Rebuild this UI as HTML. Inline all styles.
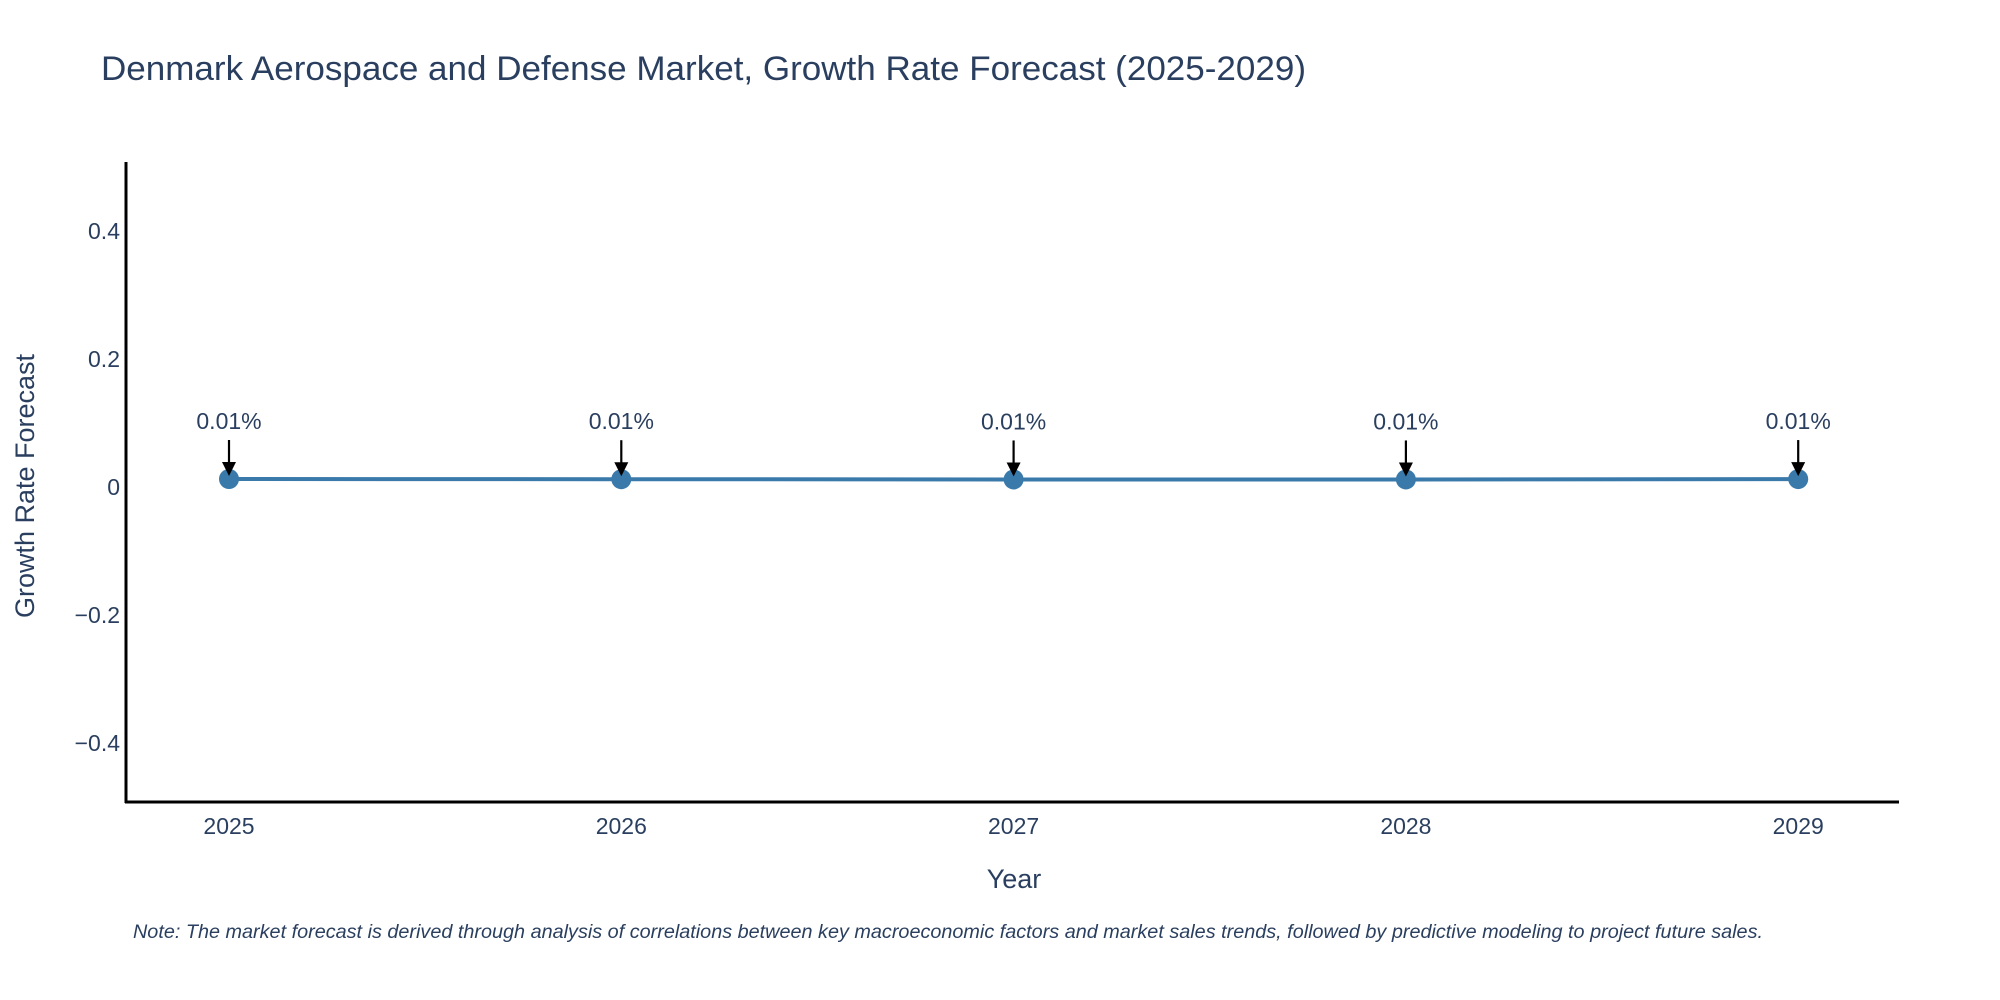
<!DOCTYPE html>
<html><head><meta charset="utf-8"><style>
html,body{margin:0;padding:0;background:#fff;}
svg{display:block;font-family:"Liberation Sans","DejaVu Sans",sans-serif;}
</style></head><body>
<svg id="chart" width="2000" height="1000" viewBox="0 0 2000 1000">
<text x="101" y="80" font-size="34" fill="#2a3f5f" textLength="1205" lengthAdjust="spacingAndGlyphs">Denmark Aerospace and Defense Market, Growth Rate Forecast (2025-2029)</text>
<text transform="translate(34,486) rotate(-90)" text-anchor="middle" font-size="27" fill="#2a3f5f">Growth Rate Forecast</text>
<text x="1014" y="888" text-anchor="middle" font-size="27" fill="#2a3f5f">Year</text>
<text x="133" y="938" font-size="19" font-style="italic" fill="#2a3f5f" textLength="1630" lengthAdjust="spacingAndGlyphs">Note: The market forecast is derived through analysis of correlations between key macroeconomic factors and market sales trends, followed by predictive modeling to project future sales.</text>
<g id="plot"></g>
</svg>
<script>
const years = [2025, 2026, 2027, 2028, 2029];
const growthValues = [0.0125, 0.0122, 0.0118, 0.0118, 0.0124];
const valueLabels = ["0.01%", "0.01%", "0.01%", "0.01%", "0.01%"];
const yTicks = [0.4, 0.2, 0, -0.2, -0.4];
const yTickLabels = ["0.4", "0.2", "0", "\u22120.2", "\u22120.4"];

const NS = "http://www.w3.org/2000/svg";
const g = document.getElementById("plot");
const xAxisLeft = 126, xAxisRight = 1899, yTop = 162, yBottom = 802;
function xs(v){ return 229 + (v - 2025) * 392.3; }
function ys(v){ return 487 - v * 640; }
function mk(tag, attrs){ const e = document.createElementNS(NS, tag); for (const k in attrs) e.setAttribute(k, attrs[k]); g.appendChild(e); return e; }

const yAxis = mk("line", {x1:xAxisLeft, y1:yTop, x2:xAxisLeft, y2:yBottom+1, stroke:"#000", "stroke-width":3});


const xAxis = mk("line", {x1:xAxisLeft-1, y1:yBottom, x2:xAxisRight, y2:yBottom, stroke:"#000", "stroke-width":3});



yTicks.forEach((t, i) => {
  const tx = mk("text", {x:120, y:ys(t) + 8, "text-anchor":"end", "font-size":23, fill:"#2a3f5f"});
  tx.textContent = yTickLabels[i];
  
  
});
years.forEach(y => {
  const tx = mk("text", {x:xs(y), y:834, "text-anchor":"middle", "font-size":23, fill:"#2a3f5f"});
  tx.textContent = String(y);
  
  
});

const pts = years.map((y, i) => xs(y) + "," + ys(growthValues[i])).join(" ");
const line = mk("polyline", {points:pts, fill:"none", stroke:"#3a7aab", "stroke-width":4});



years.forEach((y, i) => {
  const cx = xs(y), cy = ys(growthValues[i]);
  const c = mk("circle", {cx:cx, cy:cy, r:10, fill:"#3a7aab"});
  
  
  const a = mk("line", {x1:cx, y1:cy - 39, x2:cx, y2:cy - 16, stroke:"#000", "stroke-width":2.2});
  
  
  const h = mk("polygon", {points:(cx-7)+","+(cy-17)+" "+(cx+7)+","+(cy-17)+" "+cx+","+(cy-3), fill:"#000"});
  
  
  const t = mk("text", {x:cx, y:cy - 50, "text-anchor":"middle", "font-size":23, fill:"#2a3f5f"});
  t.textContent = valueLabels[i];
  
  
});
</script>
</body></html>
